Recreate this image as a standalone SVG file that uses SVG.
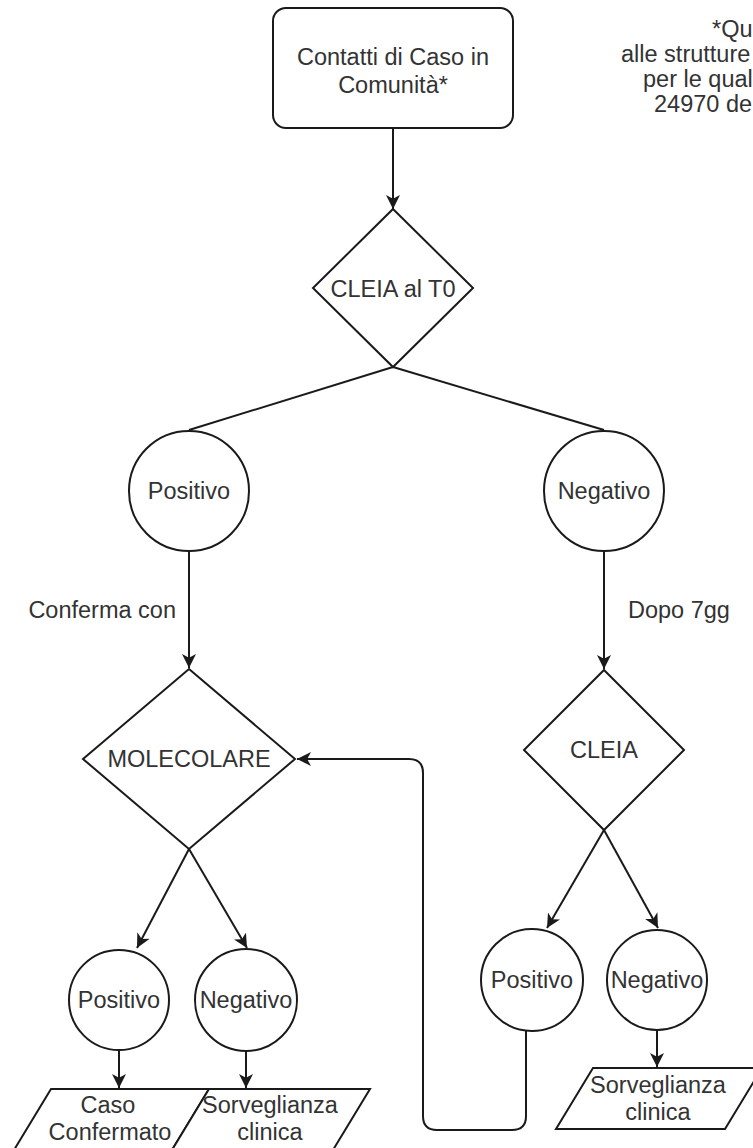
<svg xmlns="http://www.w3.org/2000/svg" width="753" height="1148" viewBox="0 0 753 1148">
  <style>
    .shape { fill: #ffffff; stroke: #1a1a1a; stroke-width: 2; }
    .edge { fill: none; stroke: #1a1a1a; stroke-width: 2; }
    .lbl { font-family: "Liberation Sans", Arial, Helvetica, sans-serif; font-size: 23.5px; fill: #333333; text-anchor: middle; }
    .note { font-family: "Liberation Sans", Arial, Helvetica, sans-serif; font-size: 23.5px; fill: #333333; }
  </style>
  <defs>
    <!-- filled arrowhead with a notched back -->
    <marker id="arrow" viewBox="0 0 15 15" refX="14" refY="7.5" markerWidth="15" markerHeight="15" markerUnits="userSpaceOnUse" orient="auto">
      <path d="M14,7.5 L0,0.5 L3.8,7.5 L0,14.5 Z" fill="#1a1a1a"/>
    </marker>
  </defs>

  <rect width="753" height="1148" fill="#ffffff"/>

  <!-- connectors -->
  <g id="connectors">
    <path class="edge" d="M393,128 V209" marker-end="url(#arrow)"/>
    <path class="edge" d="M393,367 L189,430"/>
    <path class="edge" d="M393,367 L604,430"/>
    <path class="edge" d="M189,551 V668" marker-end="url(#arrow)"/>
    <path class="edge" d="M604,551 V669" marker-end="url(#arrow)"/>
    <path class="edge" d="M189,849 L137,948" marker-end="url(#arrow)"/>
    <path class="edge" d="M189,849 L247,948" marker-end="url(#arrow)"/>
    <path class="edge" d="M119,1050 V1088" marker-end="url(#arrow)"/>
    <path class="edge" d="M246,1051 V1088" marker-end="url(#arrow)"/>
    <path class="edge" d="M604,830 L547,928" marker-end="url(#arrow)"/>
    <path class="edge" d="M604,830 L658,928" marker-end="url(#arrow)"/>
    <path class="edge" d="M657,1030 V1067" marker-end="url(#arrow)"/>
    <path class="edge" d="M526,1031 V1116 Q526,1130 512,1130 H437 Q423,1130 423,1116 V773 Q423,759 409,759 H297" marker-end="url(#arrow)"/>
    <text class="lbl" x="176" y="618" style="text-anchor:end">Conferma con</text>
    <text class="lbl" x="628" y="618" style="text-anchor:start">Dopo 7gg</text>
  </g>

  <!-- start -->
  <g id="node-start">
    <rect class="shape" x="273" y="8" width="240" height="120" rx="13" ry="13"/>
    <text class="lbl" x="393" y="65">Contatti di Caso in</text>
    <text class="lbl" x="393" y="93">Comunità*</text>
  </g>

  <!-- footnote, running off the right edge -->
  <g id="node-note">
    <text class="note" x="712" y="37">*Qu</text>
    <text class="note" x="621" y="62">alle strutture</text>
    <text class="note" x="643" y="87">per le qual</text>
    <text class="note" x="654" y="112">24970 de</text>
  </g>

  <g id="node-cleia-t0">
    <polygon class="shape" points="393,209 473,288 393,367 313,288"/>
    <text class="lbl" x="393" y="297">CLEIA al T0</text>
  </g>

  <g id="node-pos-1">
    <circle class="shape" cx="189" cy="491" r="60"/>
    <text class="lbl" x="189" y="499">Positivo</text>
  </g>

  <g id="node-neg-1">
    <circle class="shape" cx="604" cy="491" r="60"/>
    <text class="lbl" x="604" y="499">Negativo</text>
  </g>

  <g id="node-molecolare">
    <polygon class="shape" points="189,669 295,759 189,849 83,759"/>
    <text class="lbl" x="189" y="767">MOLECOLARE</text>
  </g>

  <g id="node-cleia">
    <polygon class="shape" points="604,670 684,750 604,830 524,750"/>
    <text class="lbl" x="604" y="758">CLEIA</text>
  </g>

  <g id="node-pos-2">
    <circle class="shape" cx="119" cy="1000" r="50"/>
    <text class="lbl" x="119" y="1008">Positivo</text>
  </g>

  <g id="node-neg-2">
    <circle class="shape" cx="246" cy="1000" r="51"/>
    <text class="lbl" x="246" y="1008">Negativo</text>
  </g>

  <g id="node-pos-3">
    <circle class="shape" cx="532" cy="980" r="51"/>
    <text class="lbl" x="532" y="988">Positivo</text>
  </g>

  <g id="node-neg-3">
    <circle class="shape" cx="657" cy="980" r="50"/>
    <text class="lbl" x="657" y="988">Negativo</text>
  </g>

  <g id="node-caso-confermato">
    <polygon class="shape" points="51,1089 209,1089 172,1150 14,1150"/>
    <text class="lbl" x="108" y="1113">Caso</text>
    <text class="lbl" x="110" y="1140">Confermato</text>
  </g>

  <g id="node-sorveglianza-1">
    <polygon class="shape" points="209,1089 370,1089 333,1150 172,1150"/>
    <text class="lbl" x="270" y="1113">Sorveglianza</text>
    <text class="lbl" x="270" y="1140">clinica</text>
  </g>

  <g id="node-sorveglianza-2">
    <polygon class="shape" points="593,1068 762,1068 725,1129 556,1129"/>
    <text class="lbl" x="658" y="1093">Sorveglianza</text>
    <text class="lbl" x="658" y="1120">clinica</text>
  </g>
</svg>
